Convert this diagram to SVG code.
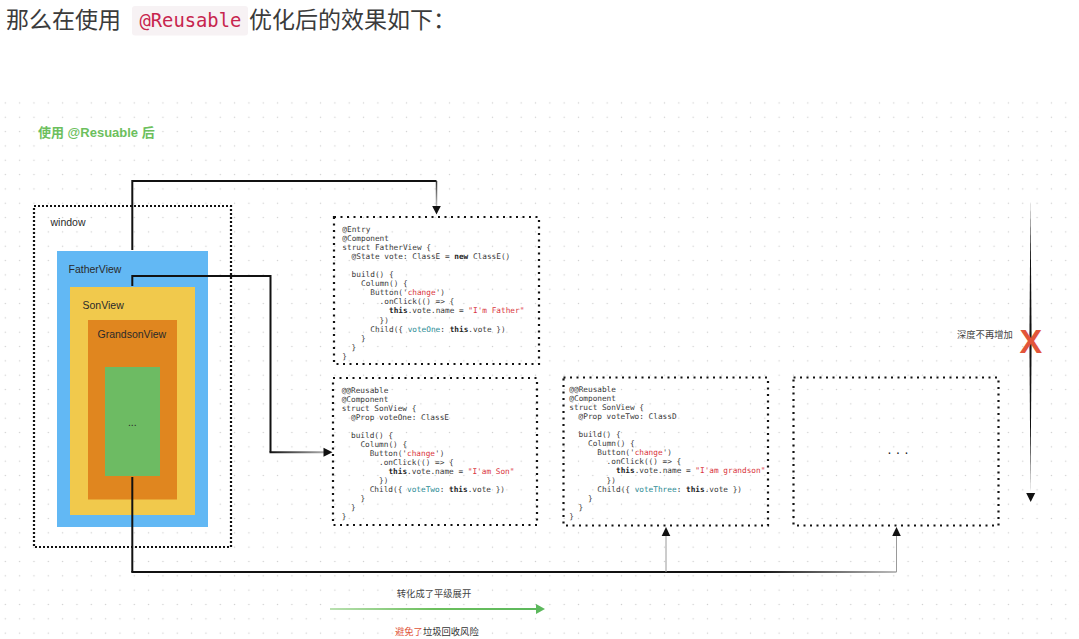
<svg xmlns="http://www.w3.org/2000/svg" width="1079" height="639" viewBox="0 0 1079 639">
<style>
.hdr{font-family:"Liberation Sans","Noto Sans CJK SC",sans-serif;font-size:23px;fill:#3b3b3b}
.chip{font-family:"DejaVu Sans Mono","Liberation Mono",monospace;font-size:18.8px;fill:#c7254e}
.lbl{font-family:"Liberation Sans","Noto Sans CJK SC",sans-serif;font-size:10.5px;fill:#2a2a2a}
.note{font-family:"Liberation Sans","Noto Sans CJK SC",sans-serif;font-size:9.3px;fill:#444}
.code{font-family:"DejaVu Sans Mono","Liberation Mono",monospace;font-size:7.75px;fill:#3a3a3a}
.s{fill:#d9363e}
.k{fill:#2c8c96}
.b{font-weight:bold;fill:#222}
.dot{fill:none;stroke:#111;stroke-width:2.2;stroke-dasharray:2 4.5}
.dotw{fill:none;stroke:#111;stroke-width:2.2;stroke-dasharray:2 2}
.ln{fill:none;stroke:#111;stroke-width:2}
.thin{fill:none;stroke:#9a9a9a;stroke-width:1}
.ah{fill:#111}
</style>
<defs>
<pattern id="grid" x="26.8" y="110.1" width="14.33" height="14.33" patternUnits="userSpaceOnUse">
<circle cx="7.17" cy="7.17" r="0.7" fill="#cfcfcf"/>
</pattern>
<linearGradient id="gBottom" gradientUnits="userSpaceOnUse" x1="132" y1="0" x2="896" y2="0">
<stop offset="0" stop-color="#111"/><stop offset="0.82" stop-color="#111"/><stop offset="1" stop-color="#bbb"/>
</linearGradient>
<linearGradient id="gSon" gradientUnits="userSpaceOnUse" x1="270" y1="0" x2="324" y2="0">
<stop offset="0" stop-color="#111"/><stop offset="1" stop-color="#aaa"/>
</linearGradient>
<linearGradient id="gTop" gradientUnits="userSpaceOnUse" x1="0" y1="181" x2="0" y2="206">
<stop offset="0" stop-color="#333"/><stop offset="1" stop-color="#bbb"/>
</linearGradient>
<linearGradient id="gGreen" gradientUnits="userSpaceOnUse" x1="330" y1="0" x2="537" y2="0">
<stop offset="0" stop-color="#b9e0b0"/><stop offset="0.5" stop-color="#6cbf5d"/><stop offset="1" stop-color="#5cb85c"/>
</linearGradient>
</defs>
<rect width="1079" height="639" fill="#fff"/>
<rect x="0" y="96" width="1079" height="543" fill="url(#grid)"/>

<g id="header">
<text class="hdr" x="6" y="28">那么在使用</text>
<rect x="132" y="6" width="116" height="29.5" rx="3" fill="#f7f2f4"/>
<text class="chip" x="139.5" y="26.5">@Reusable</text>
<text class="hdr" x="249" y="28">优化后的效果如下：</text>
</g>

<g id="title">
<text x="38" y="137" font-family="Liberation Sans,'Noto Sans CJK SC',sans-serif" font-size="13" font-weight="bold" fill="#6cbf5d">使用 @Resuable 后</text>
</g>

<g id="window">
<rect class="dotw" x="34" y="206" width="197" height="341"/>
<text class="lbl" x="50.5" y="226">window</text>
</g>
<g id="fatherview">
<rect x="57" y="251" width="151" height="276" fill="#62b8f4"/>
<text class="lbl" x="68.5" y="273">FatherView</text>
</g>
<g id="sonview">
<rect x="70" y="287" width="125" height="228" fill="#f1c94c"/>
<text class="lbl" x="82.5" y="309">SonView</text>
</g>
<g id="grandsonview">
<rect x="88" y="320" width="89" height="179.5" fill="#e0861f"/>
<text class="lbl" x="97.5" y="338">GrandsonView</text>
</g>
<g id="inner">
<rect x="105" y="367" width="55" height="109" fill="#6dbb63"/>
<text class="lbl" x="132.3" y="426" text-anchor="middle">...</text>
</g>

<g id="father-code">
<rect class="dot" x="334" y="217" width="205" height="147"/>
<text class="code" x="342.3" y="232">@Entry</text>
<text class="code" x="342.3" y="241.05">@Component</text>
<text class="code" x="342.3" y="250.1">struct FatherView {</text>
<text class="code" x="351.6" y="259.15">@State vote: ClassE = <tspan class="b">new</tspan> ClassE()</text>
<text class="code" x="351.6" y="277.25">build() {</text>
<text class="code" x="361" y="286.3">Column() {</text>
<text class="code" x="370.3" y="295.35">Button('<tspan class="s">change</tspan>')</text>
<text class="code" x="379.6" y="304.4">.onClick(() =&gt; {</text>
<text class="code" x="389" y="313.45"><tspan class="b">this</tspan>.vote.name = <tspan class="s">"I'm Father"</tspan></text>
<text class="code" x="379.6" y="322.5">})</text>
<text class="code" x="370.3" y="331.55">Child({ <tspan class="k">voteOne</tspan>: <tspan class="b">this</tspan>.vote })</text>
<text class="code" x="361" y="340.6">}</text>
<text class="code" x="351.6" y="349.65">}</text>
<text class="code" x="342.3" y="358.7">}</text>
</g>

<g id="son-code">
<rect class="dot" x="333" y="378" width="204" height="147"/>
<text class="code" x="341.7" y="392.7">@@Reusable</text>
<text class="code" x="341.7" y="401.75">@Component</text>
<text class="code" x="341.7" y="410.8">struct SonView {</text>
<text class="code" x="351" y="419.85">@Prop voteOne: ClassE</text>
<text class="code" x="351" y="437.95">build() {</text>
<text class="code" x="360.4" y="447">Column() {</text>
<text class="code" x="369.7" y="456.05">Button('<tspan class="s">change</tspan>')</text>
<text class="code" x="379" y="465.1">.onClick(() =&gt; {</text>
<text class="code" x="388.4" y="474.15"><tspan class="b">this</tspan>.vote.name = <tspan class="s">"I'am Son"</tspan></text>
<text class="code" x="379" y="483.2">})</text>
<text class="code" x="369.7" y="492.25">Child({ <tspan class="k">voteTwo</tspan>: <tspan class="b">this</tspan>.vote })</text>
<text class="code" x="360.4" y="501.3">}</text>
<text class="code" x="351" y="510.35">}</text>
<text class="code" x="341.7" y="519.4">}</text>
</g>

<g id="grandson-code">
<rect class="dot" x="563.5" y="377.5" width="204.5" height="148"/>
<text class="code" x="569.3" y="392">@@Reusable</text>
<text class="code" x="569.3" y="401.05">@Component</text>
<text class="code" x="569.3" y="410.1">struct SonView {</text>
<text class="code" x="578.6" y="419.15">@Prop voteTwo: ClassD</text>
<text class="code" x="578.6" y="437.25">build() {</text>
<text class="code" x="588" y="446.3">Column() {</text>
<text class="code" x="597.3" y="455.35">Button('<tspan class="s">change</tspan>')</text>
<text class="code" x="606.6" y="464.4">.onClick(() =&gt; {</text>
<text class="code" x="616" y="473.45"><tspan class="b">this</tspan>.vote.name = <tspan class="s">"I'am grandson"</tspan></text>
<text class="code" x="606.6" y="482.5">})</text>
<text class="code" x="597.3" y="491.55">Child({ <tspan class="k">voteThree</tspan>: <tspan class="b">this</tspan>.vote })</text>
<text class="code" x="588" y="500.6">}</text>
<text class="code" x="578.6" y="509.65">}</text>
<text class="code" x="569.3" y="518.7">}</text>
</g>

<g id="more">
<rect class="dot" x="793.5" y="377.5" width="205" height="148"/>
<text x="887.5" y="453.5" font-family="Liberation Sans,sans-serif" font-size="14" letter-spacing="4.6" fill="#222">...</text>
</g>

<g id="connectors">
<path class="ln" d="M132.3,250 V181 H436.5"/>
<path d="M436.5,181 V206" fill="none" stroke="url(#gTop)" stroke-width="1.5"/>
<path class="ah" d="M432.2,206 H440.8 L436.5,214.5 Z"/>

<path class="ln" d="M132.3,286 V276 H270.5 V452.3"/>
<path d="M269.5,452.3 H324" fill="none" stroke="url(#gSon)" stroke-width="2"/>
<path class="ah" d="M323.5,447.8 V456.8 L332.5,452.3 Z"/>

<path class="ln" d="M132.3,477 V572"/>
<path d="M131.3,572 H896.5" fill="none" stroke="url(#gBottom)" stroke-width="2"/>
<path class="thin" d="M666,572 V536"/>
<path class="thin" d="M896.5,572 V536"/>
<path class="ah" d="M661.7,536 H670.3 L666,527 Z"/>
<path class="ah" d="M892.2,536 H900.8 L896.5,527 Z"/>
</g>

<g id="depth">
<path d="M1030.5,199 L1031.6,340 L1030.5,494 L1029.4,340 Z" fill="#111"/>
<path class="ah" d="M1026.2,493 H1035.2 L1030.7,502 Z"/>
<text x="957" y="337.5" class="note" fill="#555">深度不再增加</text>
<text x="1030.8" y="352.7" text-anchor="middle" font-family="Liberation Sans,sans-serif" font-size="34" font-weight="bold" fill="#e2553a">X</text>
</g>

<g id="flat">
<text class="note" x="434" y="597" text-anchor="middle">转化成了平级展开</text>
<path d="M330,609 H537" fill="none" stroke="url(#gGreen)" stroke-width="2"/>
<path d="M536,604 V614 L545,609 Z" fill="#5cb85c"/>
<text class="note" x="395" y="634.5"><tspan fill="#e0553a">避免了</tspan><tspan fill="#333">垃圾回收风险</tspan></text>
</g>
</svg>
